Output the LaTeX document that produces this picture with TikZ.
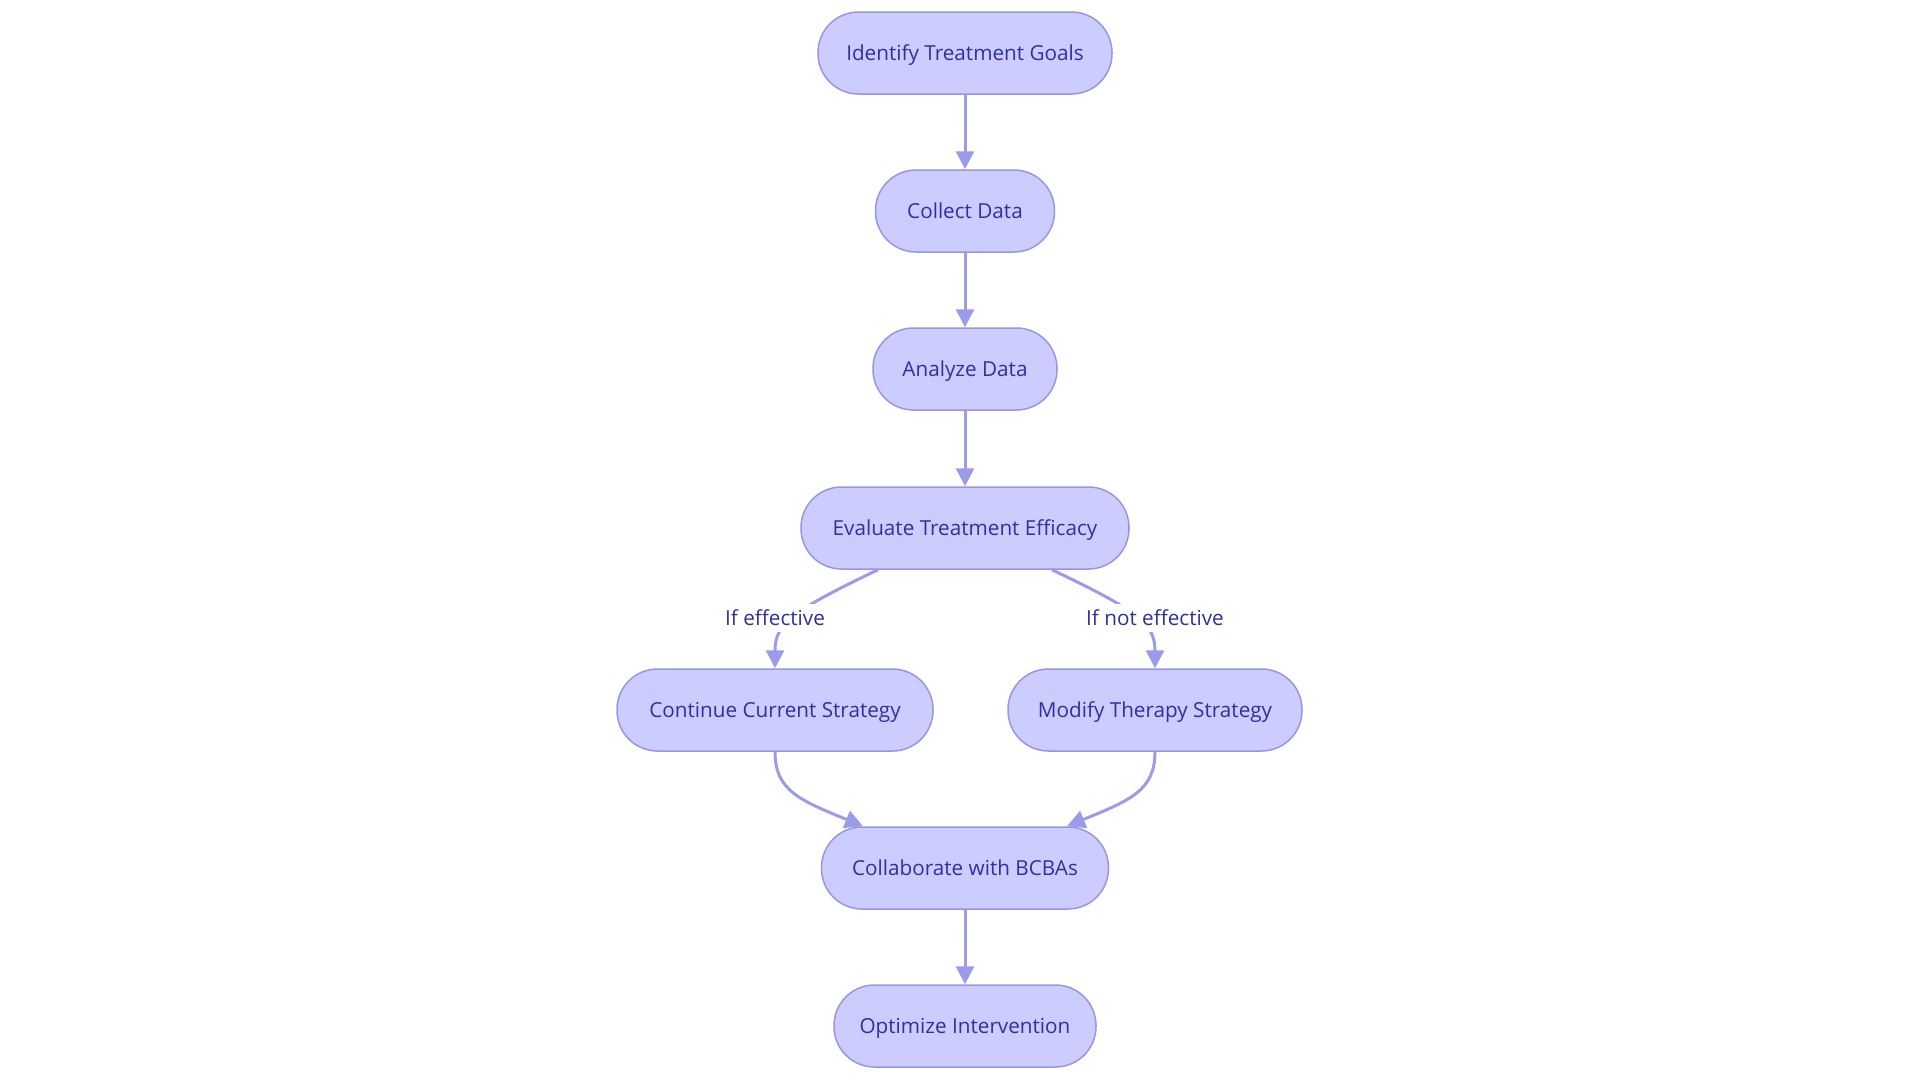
\documentclass[tikz,border=0pt]{standalone}
\usepackage{fontspec}
\setmainfont{Open Sans}
\usetikzlibrary{arrows.meta}
\definecolor{nodefill}{RGB}{204,204,255}
\definecolor{nodeborder}{RGB}{150,150,228}
\definecolor{edgecol}{RGB}{155,155,235}
\definecolor{txtcol}{RGB}{48,48,165}
\tikzset{
  flowbox/.style={draw=nodeborder, fill=nodefill, line width=1.5pt, rounded corners=40.5pt,
    minimum height=82pt, inner sep=0pt, text=txtcol, text height=19.5pt, text depth=4.5pt,
    font=\fontsize{20.7}{24}\selectfont},
  flowedge/.style={draw=edgecol, line width=3pt, -{Triangle[length=18pt,width=18pt]}},
  edgelabel/.style={fill=white, text=txtcol, inner sep=2pt, text height=19.5pt, text depth=4.5pt,
    font=\fontsize{20.7}{24}\selectfont}
}
\begin{document}
\begin{tikzpicture}[x=1pt,y=-1pt]
\useasboundingbox (0,0) rectangle (1920,1080);
\node[flowbox, minimum width=294pt] (goals) at (965,53) {Identify Treatment Goals};
\node[flowbox, minimum width=179pt] (collect) at (965,211) {Collect Data};
\node[flowbox, minimum width=184pt] (analyze) at (965,369) {Analyze Data};
\node[flowbox, minimum width=328pt] (eval) at (965,528) {Evaluate Treatment Efficacy};
\node[flowbox, minimum width=316pt] (cont) at (775,710) {Continue Current Strategy};
\node[flowbox, minimum width=294pt] (modify) at (1155,710) {Modify Therapy Strategy};
\node[flowbox, minimum width=287pt] (collab) at (965,868) {Collaborate with BCBAs};
\node[flowbox, minimum width=262pt] (optim) at (965,1026) {Optimize Intervention};

\draw[flowedge] (goals.south) -- (collect.north);
\draw[flowedge] (collect.south) -- (analyze.north);
\draw[flowedge] (analyze.south) -- (eval.north);
\draw[flowedge] ([xshift=-87pt]eval.south) .. controls +(-88,42) and +(0,-44) .. (cont.north);
\draw[flowedge] ([xshift=87pt]eval.south) .. controls +(88,42) and +(0,-44) .. (modify.north);
\draw[flowedge] (cont.south) .. controls +(0,39) and +(-63,-26) .. ([xshift=-102pt]collab.north);
\draw[flowedge] (modify.south) .. controls +(0,39) and +(63,-26) .. ([xshift=102pt]collab.north);
\draw[flowedge] (collab.south) -- (optim.north);

\node[edgelabel] (lbleff) at (775,618) {If effective};
\node[edgelabel] (lblnot) at (1155,618) {If not effective};
\end{tikzpicture}
\end{document}
